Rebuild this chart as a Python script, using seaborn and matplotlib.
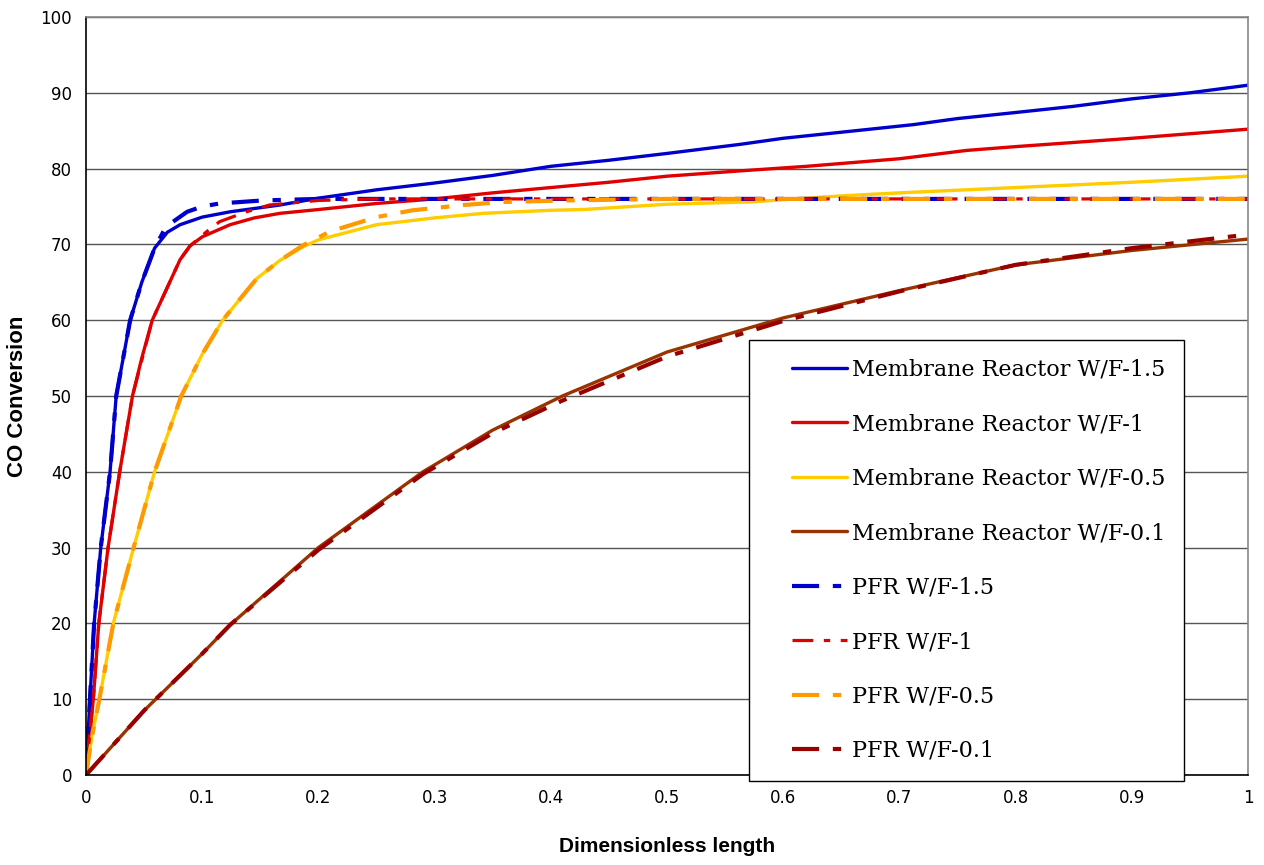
import numpy as np
import pandas as pd
import matplotlib
matplotlib.use("Agg")
import matplotlib.pyplot as plt
from matplotlib import font_manager
from matplotlib.lines import Line2D
from matplotlib.legend_handler import HandlerLine2D
import seaborn as sns

# ---------------- data ----------------
mr15_x = [0, 0.002, 0.0034, 0.007, 0.0127, 0.0207, 0.026, 0.038, 0.048, 0.059, 0.07, 0.081, 0.1, 0.124, 0.167,
          0.2, 0.25, 0.3, 0.35, 0.4, 0.45, 0.5, 0.563, 0.6, 0.65, 0.712, 0.75, 0.8, 0.849, 0.9, 0.95, 1.0]
mr15_y = [0, 6, 10, 20, 30, 40, 50, 60, 65, 69.5, 71.6, 72.6, 73.6, 74.3, 75.2,
          76.1, 77.2, 78.1, 79.1, 80.3, 81.1, 82.0, 83.2, 84.0, 84.8, 85.8, 86.6, 87.4, 88.2, 89.2, 90.0, 91.0]

mr1_x = [0, 0.003, 0.0063, 0.011, 0.019, 0.029, 0.040, 0.048, 0.057, 0.069, 0.081, 0.0895, 0.1, 0.124, 0.145, 0.167,
         0.2, 0.25, 0.3, 0.35, 0.4, 0.45, 0.5, 0.563, 0.62, 0.7, 0.758, 0.8, 0.9, 1.0]
mr1_y = [0, 5, 10, 20, 30, 40, 50, 55, 60, 64, 68.0, 69.8, 71.0, 72.6, 73.5, 74.1,
         74.6, 75.4, 76.0, 76.8, 77.5, 78.2, 79.0, 79.7, 80.3, 81.3, 82.4, 82.9, 84.0, 85.2]

mr05_x = [0, 0.005, 0.0115, 0.0235, 0.041, 0.059, 0.082, 0.1, 0.1176, 0.147, 0.167, 0.187, 0.2, 0.25,
          0.3, 0.342, 0.4, 0.428, 0.5, 0.571, 0.65, 0.7, 0.8, 0.9, 1.0]
mr05_y = [0, 5, 10, 20, 30, 40, 50, 55.5, 60, 65.5, 67.9, 69.7, 70.6, 72.6,
          73.5, 74.1, 74.5, 74.6, 75.3, 75.6, 76.4, 76.8, 77.5, 78.2, 79.0]

mr01_x = [0, 0.05, 0.1, 0.124, 0.2, 0.29, 0.35, 0.41, 0.5, 0.6, 0.7, 0.8, 0.9, 1.0]
mr01_y = [0, 8.5, 16, 19.8, 30, 40, 45.5, 50, 55.8, 60.3, 63.9, 67.3, 69.2, 70.7]

pfr15_x = [0, 0.002, 0.0034, 0.007, 0.0127, 0.0207, 0.026, 0.038, 0.048, 0.059, 0.067, 0.075, 0.087, 0.1,
           0.115, 0.152, 0.2, 1.0]
pfr15_y = [0, 6, 10, 20, 30, 40, 50, 60, 65, 69.5, 71.8, 73.0, 74.3, 75.0,
           75.4, 75.8, 76.0, 76.0]

pfr1_x = [0, 0.003, 0.0063, 0.011, 0.019, 0.029, 0.040, 0.057, 0.069, 0.081, 0.0895, 0.104, 0.115, 0.138, 0.158,
          0.2, 0.25, 1.0]
pfr1_y = [0, 5, 10, 20, 30, 40, 50, 60, 64, 68.0, 69.8, 71.7, 73.0, 74.3, 75.2,
          75.8, 76.0, 76.0]

pfr05_x = [0, 0.005, 0.0115, 0.0235, 0.041, 0.059, 0.082, 0.1, 0.1176, 0.147, 0.167, 0.187, 0.21, 0.25,
           0.281, 0.325, 0.359, 0.414, 0.5, 1.0]
pfr05_y = [0, 5, 10, 20, 30, 40, 50, 55.5, 60, 65.5, 67.9, 69.9, 71.7, 73.6,
           74.5, 75.2, 75.6, 75.8, 76.0, 76.0]

pfr01_x = [0, 0.05, 0.1, 0.124, 0.2, 0.29, 0.35, 0.41, 0.5, 0.6, 0.7, 0.8, 0.9, 1.0]
pfr01_y = [0, 8.5, 16, 19.8, 29.7, 39.7, 45.1, 49.4, 55.2, 59.9, 63.8, 67.3, 69.5, 71.3]

labels = ["Membrane Reactor W/F-1.5", "Membrane Reactor W/F-1", "Membrane Reactor W/F-0.5",
          "Membrane Reactor W/F-0.1", "PFR W/F-1.5", "PFR W/F-1", "PFR W/F-0.5", "PFR W/F-0.1"]
x_ticks = [0, 0.1, 0.2, 0.3, 0.4, 0.5, 0.6, 0.7, 0.8, 0.9, 1.0]
x_ticklabels = ["0", "0.1", "0.2", "0.3", "0.4", "0.5", "0.6", "0.7", "0.8", "0.9", "1"]
y_ticks = [0, 10, 20, 30, 40, 50, 60, 70, 80, 90, 100]

# ---------------- style ----------------
sns.set_theme(style="white")
plt.rcParams['font.family'] = ['DejaVu Sans']

available = {f.name for f in font_manager.fontManager.ttflist}
narrow = 'Liberation Sans Narrow' if 'Liberation Sans Narrow' in available else 'Liberation Sans'

series = [
    (mr15_x, mr15_y, "#0000CC", "-", 2.4),
    (mr1_x, mr1_y, "#E00000", "-", 2.4),
    (mr05_x, mr05_y, "#FFCC00", "-", 2.4),
    (mr01_x, mr01_y, "#993300", "-", 2.4),
    (pfr15_x, pfr15_y, "#0000CC", "pfr", 3.0),
    (pfr1_x, pfr1_y, "#E00000", "pfr", 2.3),
    (pfr05_x, pfr05_y, "#FF9900", "pfr", 3.0),
    (pfr01_x, pfr01_y, "#990000", "pfr", 3.0),
]
PFR_DASH = (6.5, 3.3, 2.0, 3.3)


class ShiftedLine(HandlerLine2D):
    shift = 17

    def create_artists(self, legend, orig_handle, xdescent, ydescent, width, height, fontsize, trans):
        return super().create_artists(legend, orig_handle, xdescent - self.shift, ydescent,
                                      width - self.shift, height, fontsize, trans)


fig = plt.figure(figsize=(12.64, 8.65), dpi=100)
ax = fig.add_axes([86 / 1264, 90 / 865, 1162 / 1264, 758 / 865])

handles = []
for (xs, ys, col, ls, lw), lab in zip(series, labels):
    df = pd.DataFrame({"x": xs, "y": ys})
    sns.lineplot(data=df, x="x", y="y", ax=ax, color=col, linewidth=lw,
                 sort=False, estimator=None, legend=False)
    line = ax.lines[-1]
    if ls == "pfr":
        line.set_dashes(PFR_DASH)
        h = Line2D([], [], color=col, linewidth=lw, dashes=PFR_DASH)
    else:
        h = Line2D([], [], color=col, linewidth=lw)
    handles.append(h)

ax.set_xlim(0, 1)
ax.set_ylim(0, 100)
ax.set_xticks(x_ticks)
ax.set_xticklabels(x_ticklabels)
ax.set_yticks(y_ticks)
ax.yaxis.grid(True, color="#555555", linewidth=1.0)
ax.xaxis.grid(False)
ax.set_axisbelow(True)

for s in ["left", "bottom"]:
    ax.spines[s].set_color("black")
    ax.spines[s].set_linewidth(1.2)
for s in ["top", "right"]:
    ax.spines[s].set_color("#888888")
    ax.spines[s].set_linewidth(1.2)

ax.tick_params(axis="both", direction="out", length=5, width=1, color="black",
               labelsize=12, labelcolor="black", pad=5)
for t in ax.get_xticklabels() + ax.get_yticklabels():
    t.set_fontfamily("DejaVu Sans")

ax.set_xlabel("Dimensionless length", fontsize=15, fontweight="bold", family=narrow,
              labelpad=22, color="black")
ax.set_ylabel("CO Conversion", fontsize=16, fontweight="bold", family=narrow, color="black")
ax.yaxis.set_label_coords(-58 / 1162, 0.5)

hmap = {h: ShiftedLine() for h in handles}
leg = ax.legend(handles, labels, loc="upper left", bbox_to_anchor=(0.5706, 0.574),
                borderaxespad=0, frameon=True, fancybox=False, edgecolor="black",
                prop={"family": "DejaVu Serif", "size": 16}, handlelength=3.56,
                handletextpad=0.23, labelspacing=1.46, borderpad=0.85, framealpha=1,
                handler_map=hmap)
leg.get_frame().set_linewidth(1.0)
for t in leg.get_texts():
    t.set_color("black")

fig.savefig("out.png", dpi=100)
